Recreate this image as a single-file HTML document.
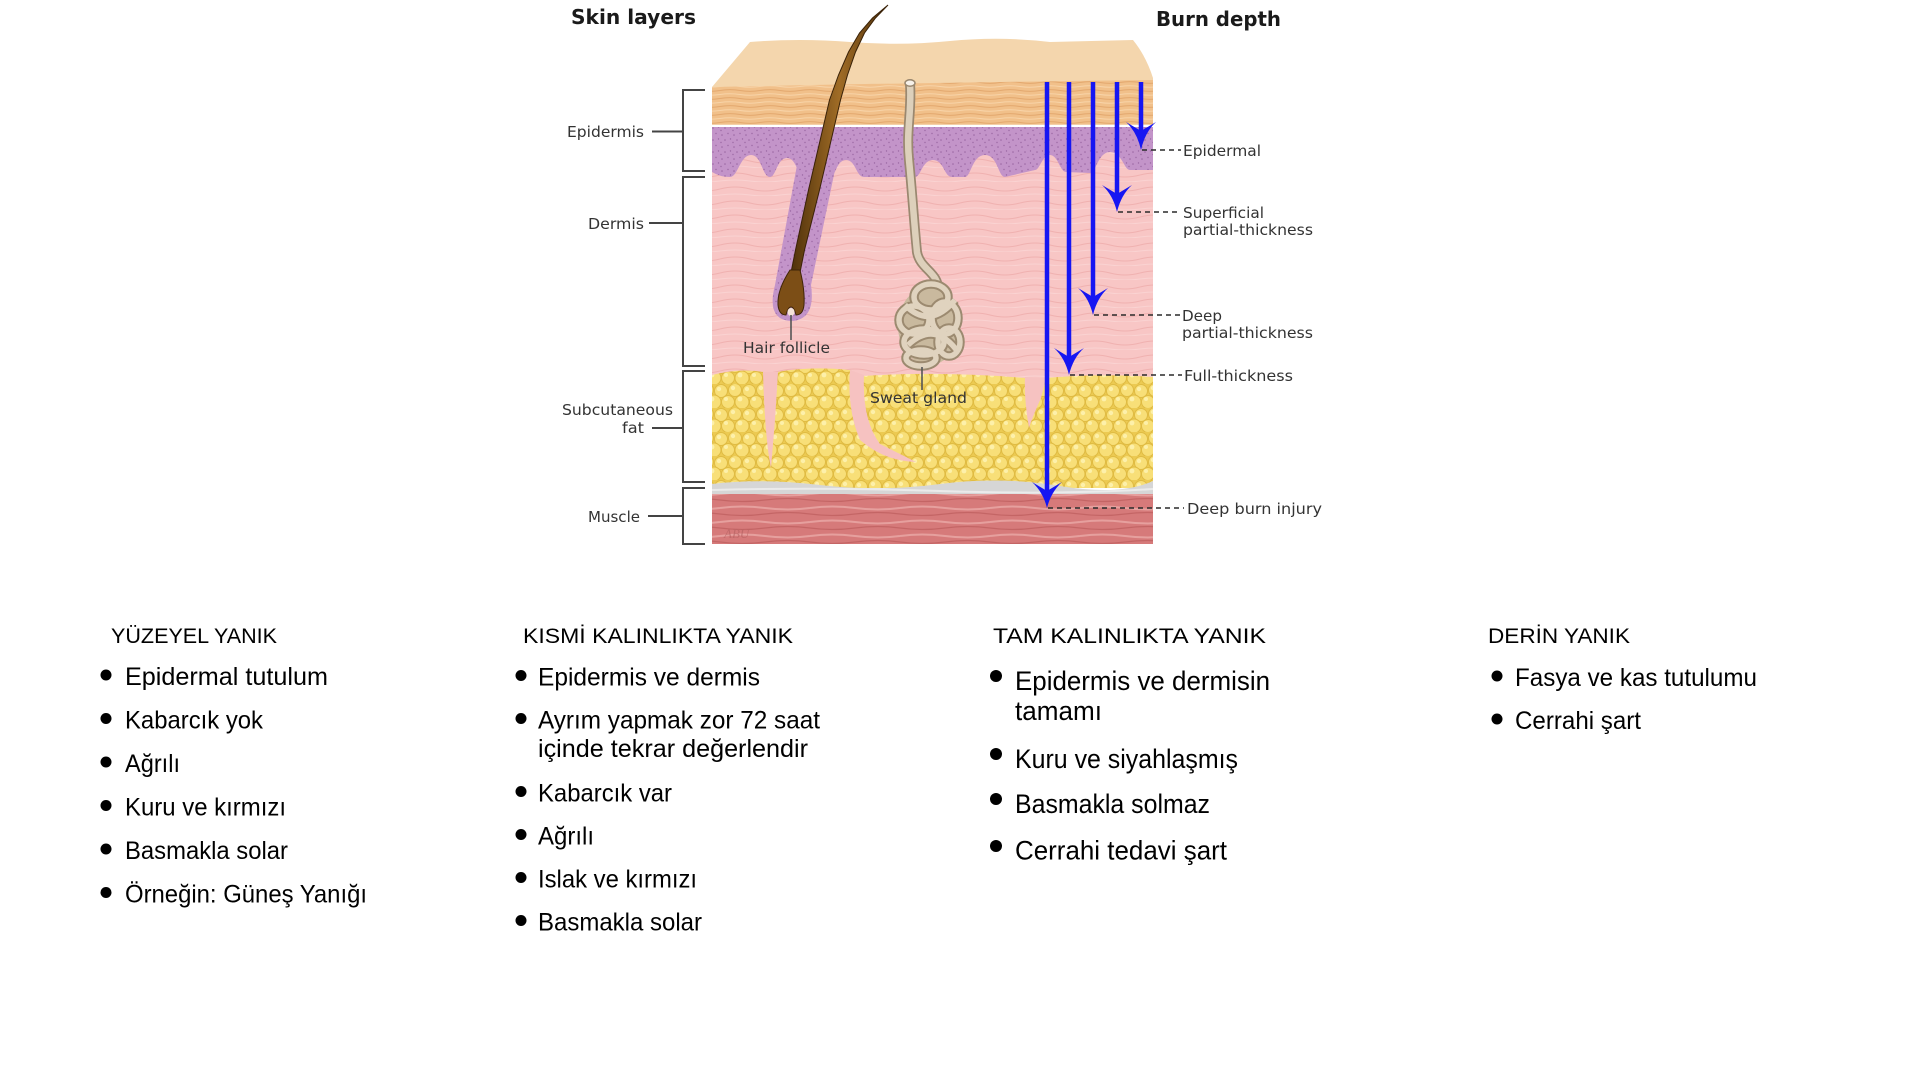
<!DOCTYPE html>
<html>
<head>
<meta charset="utf-8">
<style>
html,body{margin:0;padding:0;background:#fff;}
body{width:1920px;height:1080px;overflow:hidden;}
svg{display:block;}
.lbl{font-family:"DejaVu Sans","Liberation Sans",sans-serif;font-size:15px;fill:#333;}
.ttl{font-family:"DejaVu Sans","Liberation Sans",sans-serif;font-size:20px;font-weight:bold;fill:#1a1a1a;}
.hd{font-family:"Liberation Sans",sans-serif;font-size:21px;fill:#000;}
.it{font-family:"Liberation Sans",sans-serif;font-size:25px;fill:#000;}
.it3{font-family:"Liberation Sans",sans-serif;font-size:26.5px;fill:#000;}
</style>
</head>
<body>
<svg width="1920" height="1080" viewBox="0 0 1920 1080" xmlns="http://www.w3.org/2000/svg">
<defs>
  <pattern id="epi" width="40" height="8" patternUnits="userSpaceOnUse">
    <rect width="40" height="8" fill="#f1c08a"/>
    <path d="M0 2.5 Q10 0.8 20 2.5 T40 2.5" stroke="#e3a86e" stroke-width="1" fill="none"/>
    <path d="M0 6.5 Q10 5 20 6.5 T40 6.5" stroke="#f8d4a8" stroke-width="1" fill="none"/>
  </pattern>
  <pattern id="purp" width="12" height="12" patternUnits="userSpaceOnUse">
    <rect width="12" height="12" fill="#c394c9"/>
    <g fill="#9a67a3">
      <circle cx="2" cy="3" r="0.8"/><circle cx="8" cy="1.5" r="0.7"/><circle cx="5" cy="8" r="0.8"/>
      <circle cx="10.5" cy="7" r="0.7"/><circle cx="1" cy="10.5" r="0.7"/>
    </g>
  </pattern>
  <pattern id="derm" width="60" height="14" patternUnits="userSpaceOnUse">
    <rect width="60" height="14" fill="#f8c6c5"/>
    <path d="M0 7 Q15 3 30 7 T60 7" stroke="#f0b1b0" stroke-width="1" fill="none"/>
    <path d="M0 13 Q15 11 30 13 T60 13" stroke="#fad3d2" stroke-width="1" fill="none"/>
  </pattern>
  <pattern id="fat" width="28" height="24" patternUnits="userSpaceOnUse">
    <rect width="28" height="24" fill="#ecca52"/>
    <g fill="#f8df78" stroke="#e0bb42" stroke-width="1">
      <circle cx="7" cy="6" r="6.5"/><circle cx="21" cy="7" r="6.5"/><circle cx="14" cy="18" r="7"/>
      <circle cx="0" cy="18" r="6.5"/><circle cx="28" cy="18" r="6.5"/>
    </g>
    <g fill="#fdf0aa">
      <circle cx="5" cy="4" r="2.2"/><circle cx="19" cy="5" r="2.2"/><circle cx="12" cy="15" r="2.4"/><circle cx="26" cy="15" r="2"/>
    </g>
  </pattern>
  <pattern id="musc" width="90" height="14" patternUnits="userSpaceOnUse">
    <rect width="90" height="14" fill="#d67a7a"/>
    <path d="M0 4 Q22 1 45 4 T90 4" stroke="#e6a09e" stroke-width="2" fill="none"/>
    <path d="M0 10 Q22 13 45 10 T90 10" stroke="#c46565" stroke-width="1.2" fill="none"/>
  </pattern>
  <linearGradient id="hairg" x1="0" y1="0" x2="1" y2="0">
    <stop offset="0" stop-color="#4e300a"/>
    <stop offset="0.5" stop-color="#a06c26"/>
    <stop offset="1" stop-color="#4e300a"/>
  </linearGradient>
</defs>

<!-- Titles -->
<text class="ttl" x="571" y="24" textLength="125" lengthAdjust="spacingAndGlyphs">Skin layers</text>
<text class="ttl" x="1156" y="26" textLength="125" lengthAdjust="spacingAndGlyphs">Burn depth</text>

<!-- Pale top (stratum corneum) -->
<path d="M712,87 L750,42 Q800,38 850,42 T950,41 T1050,42 L1133,40 Q1146,56 1153,78 L1153,92 L712,92 Z" fill="#f4d6ad"/>
<!-- Epidermis orange -->
<path d="M712,87 Q900,83 1153,80 L1153,127 L712,127 Z" fill="url(#epi)"/>
<line x1="712" y1="126" x2="1153" y2="126" stroke="#ffffff" stroke-width="2.5"/>
<!-- Purple basal layer -->
<rect x="712" y="127" width="441" height="55" fill="url(#purp)"/>
<!-- Dermis -->
<path d="M712,172 Q720,177 730,177 C738,177 740,155 751,155 C762,155 762,177 770,177 C776,177 777,158 787,158 C797,158 797,177 805,177 L830,177 C836,177 836,160 846,160 C856,160 856,177 864,177 L915,177 C921,177 922,160 933,160 C944,160 944,177 952,177 L965,177 C971,177 972,155 985,155 C998,155 998,177 1005,177 L1035,170 C1040,170 1042,155 1050,155 C1058,155 1060,172 1066,172 L1090,173 C1096,173 1098,152 1110,152 C1122,152 1124,170 1130,170 L1153,170 L1153,385 L712,385 Z" fill="url(#derm)"/>

<!-- Fat -->
<path d="M712,375 Q740,368 764,372 L777,372 Q812,366 850,370 L862,376 Q940,371 1025,378 L1045,378 Q1100,373 1153,377 L1153,488 L712,488 Z" fill="url(#fat)"/>
<!-- pink strands in fat -->
<path d="M763,372 L778,372 L775,420 L771,468 Q765,440 763,372 Z" fill="#f6c2c1"/>
<path d="M850,370 L864,375 Q862,420 880,444 L916,462 Q884,461 860,440 Q847,410 850,370 Z" fill="#f6c2c1"/>
<path d="M1025,377 L1046,378 L1041,398 Q1032,418 1029,428 Q1024,400 1025,377 Z" fill="#f6c2c1"/>
<!-- Grey fascia -->
<path d="M712,484 Q760,478 820,485 T940,484 T1060,486 T1153,481 L1153,496 L712,496 Z" fill="#d6d6d6"/>
<path d="M712,490 Q820,487 940,491 T1153,489" stroke="#ebebeb" stroke-width="2" fill="none"/>
<!-- Muscle -->
<rect x="712" y="494" width="441" height="50" fill="url(#musc)"/>
<text x="724" y="538" font-family="Liberation Serif,serif" font-style="italic" font-size="13" fill="#b86464" opacity="0.7">ABU</text>

<!-- Hair follicle sheath -->
<path d="M797,165 L775,285 Q766,320 791,321 Q816,320 811,285 L836,165 Z" fill="url(#purp)"/>
<!-- Hair shaft -->
<path d="M888,5 L872.5,18 L859.5,33 L848.5,52 L838.5,75 L829.5,100 L822.5,130 L815.5,160 L808.5,190 L802,220 L795.5,250 L790.5,275 L799.5,275 L804.5,250 L812,220 L819.5,190 L826.5,160 L833.5,130 L840.5,100 L847.5,75 L855.5,52 L864.5,33 L875.5,18 Z" fill="url(#hairg)" stroke="#3a2208" stroke-width="1"/>
<!-- Hair bulb -->
<path d="M790,270 Q777,290 778,305 Q779,315 786,315 Q788,307 791,307 Q794,307 796,315 Q803,315 804,305 Q805,290 800,270 Z" fill="#7c4e16" stroke="#3e2408" stroke-width="1"/>
<ellipse cx="791" cy="312" rx="3.5" ry="4" fill="#f6e4da"/>
<line x1="791" y1="315" x2="791" y2="340" stroke="#555" stroke-width="1.6"/>
<text class="lbl" x="743" y="353" textLength="87" lengthAdjust="spacingAndGlyphs">Hair follicle</text>

<!-- Sweat gland duct -->
<path d="M910,84 C912,110 906,130 909,160 C912,190 914,222 917,252 C920,270 940,272 938,292" stroke="#9a8870" stroke-width="10" fill="none" stroke-linecap="round"/>
<path d="M910,84 C912,110 906,130 909,160 C912,190 914,222 917,252 C920,270 940,272 938,292" stroke="#ddd0bb" stroke-width="6.5" fill="none" stroke-linecap="round"/>
<ellipse cx="910" cy="83" rx="5" ry="3.2" fill="#f6f1ea" stroke="#9a8870" stroke-width="1.5"/>
<!-- coil -->
<ellipse cx="929" cy="326" rx="31" ry="39" fill="#c9b99e"/>
<g fill="none" stroke="#9c8a70" stroke-width="9.5">
  <ellipse cx="931" cy="297" rx="17" ry="13"/>
  <ellipse cx="914" cy="320" rx="15" ry="14"/>
  <ellipse cx="945" cy="318" rx="13" ry="16"/>
  <ellipse cx="924" cy="342" rx="20" ry="13"/>
  <ellipse cx="949" cy="342" rx="11" ry="14"/>
  <ellipse cx="921" cy="358" rx="15" ry="8"/>
  <path d="M905,305 Q930,330 955,300"/>
  <path d="M908,345 Q935,320 958,352"/>
</g>
<g fill="none" stroke="#e0d3bf" stroke-width="5.5">
  <ellipse cx="931" cy="297" rx="17" ry="13"/>
  <ellipse cx="914" cy="320" rx="15" ry="14"/>
  <ellipse cx="945" cy="318" rx="13" ry="16"/>
  <ellipse cx="924" cy="342" rx="20" ry="13"/>
  <ellipse cx="949" cy="342" rx="11" ry="14"/>
  <ellipse cx="921" cy="358" rx="15" ry="8"/>
  <path d="M905,305 Q930,330 955,300"/>
  <path d="M908,345 Q935,320 958,352"/>
</g>
<line x1="922" y1="367" x2="922" y2="390" stroke="#555" stroke-width="1.6"/>
<text class="lbl" x="870" y="403" textLength="97" lengthAdjust="spacingAndGlyphs">Sweat gland</text>

<!-- Left brackets -->
<g stroke="#444" stroke-width="2" fill="none">
  <path d="M705,90 L683,90 L683,171 L705,171"/>
  <path d="M705,177 L683,177 L683,366 L705,366"/>
  <path d="M705,371 L683,371 L683,482 L705,482"/>
  <path d="M705,488 L683,488 L683,544 L705,544"/>
  <line x1="652" y1="131.5" x2="683" y2="131.5"/>
  <line x1="649" y1="223" x2="683" y2="223"/>
  <line x1="652" y1="428" x2="683" y2="428"/>
  <line x1="648" y1="516" x2="683" y2="516"/>
</g>
<text class="lbl" x="567" y="137" textLength="77" lengthAdjust="spacingAndGlyphs">Epidermis</text>
<text class="lbl" x="588" y="229" textLength="56" lengthAdjust="spacingAndGlyphs">Dermis</text>
<text class="lbl" x="562" y="415" textLength="111" lengthAdjust="spacingAndGlyphs">Subcutaneous</text>
<text class="lbl" x="622" y="433" textLength="22" lengthAdjust="spacingAndGlyphs">fat</text>
<text class="lbl" x="588" y="522" textLength="52" lengthAdjust="spacingAndGlyphs">Muscle</text>

<!-- Burn depth arrows -->
<g stroke="#1616f2" stroke-width="4.5">
  <line x1="1141" y1="82" x2="1141" y2="132"/>
  <line x1="1117" y1="82" x2="1117" y2="195"/>
  <line x1="1093" y1="82" x2="1093" y2="298"/>
  <line x1="1069" y1="82" x2="1069" y2="358"/>
  <line x1="1047" y1="82" x2="1047" y2="492"/>
</g>
<g fill="#1616f2">
  <path d="M1141,131 L1126,122 Q1137,132 1141,150 Q1145,132 1156,122 Z"/>
  <path d="M1117,194 L1102,185 Q1113,195 1117,212 Q1121,195 1132,185 Z"/>
  <path d="M1093,297 L1078,288 Q1089,298 1093,315 Q1097,298 1108,288 Z"/>
  <path d="M1069,357 L1054,348 Q1065,358 1069,375 Q1073,358 1084,348 Z"/>
  <path d="M1047,491 L1032,482 Q1043,492 1047,508 Q1051,492 1062,482 Z"/>
</g>
<g stroke="#2a2a2a" stroke-width="1.6" stroke-dasharray="5 4">
  <line x1="1142" y1="150" x2="1181" y2="150"/>
  <line x1="1118" y1="212" x2="1181" y2="212"/>
  <line x1="1094" y1="315" x2="1180" y2="315"/>
  <line x1="1070" y1="375" x2="1182" y2="375"/>
  <line x1="1048" y1="508" x2="1184" y2="508"/>
</g>
<text class="lbl" x="1183" y="156" textLength="78" lengthAdjust="spacingAndGlyphs">Epidermal</text>
<text class="lbl" x="1183" y="218" textLength="81" lengthAdjust="spacingAndGlyphs">Superficial</text>
<text class="lbl" x="1183" y="235" textLength="130" lengthAdjust="spacingAndGlyphs">partial-thickness</text>
<text class="lbl" x="1182" y="321" textLength="40" lengthAdjust="spacingAndGlyphs">Deep</text>
<text class="lbl" x="1182" y="338" textLength="131" lengthAdjust="spacingAndGlyphs">partial-thickness</text>
<text class="lbl" x="1184" y="381" textLength="109" lengthAdjust="spacingAndGlyphs">Full-thickness</text>
<text class="lbl" x="1187" y="514" textLength="135" lengthAdjust="spacingAndGlyphs">Deep burn injury</text>

<!-- Bottom columns -->
<text class="hd" x="111" y="643" textLength="166" lengthAdjust="spacingAndGlyphs">YÜZEYEL YANIK</text>
<text class="hd" x="523" y="643" textLength="270" lengthAdjust="spacingAndGlyphs">KISMİ KALINLIKTA YANIK</text>
<text class="hd" x="993" y="643" textLength="273" lengthAdjust="spacingAndGlyphs">TAM KALINLIKTA YANIK</text>
<text class="hd" x="1488" y="643" textLength="142" lengthAdjust="spacingAndGlyphs">DERİN YANIK</text>

<g fill="#000">
  <!-- col1 bullets -->
  <circle cx="106" cy="675" r="5.5"/>
  <circle cx="106" cy="718.5" r="5.5"/>
  <circle cx="106" cy="762" r="5.5"/>
  <circle cx="106" cy="805.5" r="5.5"/>
  <circle cx="106" cy="849" r="5.5"/>
  <circle cx="106" cy="892.5" r="5.5"/>
  <!-- col2 -->
  <circle cx="521" cy="675.5" r="5.5"/>
  <circle cx="521" cy="718.5" r="5.5"/>
  <circle cx="521" cy="791.5" r="5.5"/>
  <circle cx="521" cy="834.5" r="5.5"/>
  <circle cx="521" cy="877.5" r="5.5"/>
  <circle cx="521" cy="920.5" r="5.5"/>
  <!-- col3 -->
  <circle cx="996" cy="676" r="6"/>
  <circle cx="996" cy="754" r="6"/>
  <circle cx="996" cy="799" r="6"/>
  <circle cx="996" cy="846" r="6"/>
  <!-- col4 -->
  <circle cx="1497" cy="676" r="5.5"/>
  <circle cx="1497" cy="719" r="5.5"/>
</g>

<text class="it" x="125" y="685" textLength="203" lengthAdjust="spacingAndGlyphs">Epidermal tutulum</text>
<text class="it" x="125" y="728.5" textLength="138" lengthAdjust="spacingAndGlyphs">Kabarcık yok</text>
<text class="it" x="125" y="772" textLength="55" lengthAdjust="spacingAndGlyphs">Ağrılı</text>
<text class="it" x="125" y="815.5" textLength="161" lengthAdjust="spacingAndGlyphs">Kuru ve kırmızı</text>
<text class="it" x="125" y="859" textLength="163" lengthAdjust="spacingAndGlyphs">Basmakla solar</text>
<text class="it" x="125" y="902.5" textLength="242" lengthAdjust="spacingAndGlyphs">Örneğin: Güneş Yanığı</text>

<text class="it" x="538" y="685.5" textLength="222" lengthAdjust="spacingAndGlyphs">Epidermis ve dermis</text>
<text class="it" x="538" y="728.5" textLength="282" lengthAdjust="spacingAndGlyphs">Ayrım yapmak zor 72 saat</text>
<text class="it" x="538" y="757" textLength="270" lengthAdjust="spacingAndGlyphs">içinde tekrar değerlendir</text>
<text class="it" x="538" y="801.5" textLength="134" lengthAdjust="spacingAndGlyphs">Kabarcık var</text>
<text class="it" x="538" y="844.5" textLength="56" lengthAdjust="spacingAndGlyphs">Ağrılı</text>
<text class="it" x="538" y="887.5" textLength="159" lengthAdjust="spacingAndGlyphs">Islak ve kırmızı</text>
<text class="it" x="538" y="930.5" textLength="164" lengthAdjust="spacingAndGlyphs">Basmakla solar</text>

<text class="it3" x="1015" y="690" textLength="255" lengthAdjust="spacingAndGlyphs">Epidermis ve dermisin</text>
<text class="it3" x="1015" y="720" textLength="87" lengthAdjust="spacingAndGlyphs">tamamı</text>
<text class="it3" x="1015" y="768" textLength="223" lengthAdjust="spacingAndGlyphs">Kuru ve siyahlaşmış</text>
<text class="it3" x="1015" y="813" textLength="195" lengthAdjust="spacingAndGlyphs">Basmakla solmaz</text>
<text class="it3" x="1015" y="859.5" textLength="212" lengthAdjust="spacingAndGlyphs">Cerrahi tedavi şart</text>

<text class="it" x="1515" y="686" textLength="242" lengthAdjust="spacingAndGlyphs">Fasya ve kas tutulumu</text>
<text class="it" x="1515" y="729" textLength="126" lengthAdjust="spacingAndGlyphs">Cerrahi şart</text>
</svg>
</body>
</html>
